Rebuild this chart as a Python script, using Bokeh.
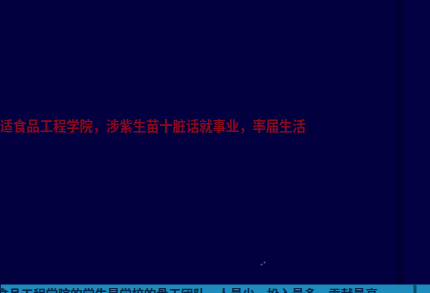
from bokeh.plotting import figure
from bokeh.models import ColumnDataSource, Range1d
from bokeh.core.properties import value
from bokeh.embed import file_html
from bokeh.resources import INLINE

# texts shown in the picture
caption_red = ["适食品工程学院，涉紫生苗十脏话就事业，率届生活"]
caption_band = ["食品工程学院的学生是学校的骨干团队，人最少，投入最多，贡献最高。"]

W, H = 430, 293
p = figure(width=W, height=H, output_backend="svg", toolbar_location=None,
           x_range=Range1d(0, W), y_range=Range1d(H, 0), min_border=0)
p.axis.visible = False
p.grid.visible = False
p.outline_line_color = None
p.background_fill_color = "#03003f"
p.border_fill_color = "#03003f"

# dark vertical stripe and right panel
p.quad(left=[396], right=[403], top=[0], bottom=[284], fill_color="#010030", line_color=None)
p.quad(left=[403], right=[430], top=[0], bottom=[284], fill_color="#040044", line_color=None)

# bottom cyan band
p.quad(left=[0], right=[430], top=[284], bottom=[293], fill_color="#1c8cbc", line_color=None)
p.quad(left=[413], right=[416], top=[284], bottom=[293], fill_color="#0d4a6a", line_color=None)

# faint dots
p.scatter(x=[261, 264], y=[264, 262], size=2, color="#5a5aa0", line_color=None)

red_src = ColumnDataSource(dict(x=[-1], y=[125], t=caption_red))
p.text(x="x", y="y", text="t", source=red_src, text_color="#860a1c",
       text_font=value("Noto Sans CJK SC"), text_font_size="13.3px",
       text_font_style="bold", text_baseline="middle", text_align="left")

band_src = ColumnDataSource(dict(x=[-4], y=[284], t=caption_band))
p.text(x="x", y="y", text="t", source=band_src, text_color="#07234a",
       text_font=value("Noto Sans CJK SC"), text_font_size="12.3px",
       text_font_style="bold", text_baseline="top", text_align="left")

html = file_html(p, INLINE)
html = html.replace("<head>", "<head><style>html,body{margin:0;padding:0;background:#03003f;overflow:hidden}</style>", 1)
open("out.html", "w").write(html)
